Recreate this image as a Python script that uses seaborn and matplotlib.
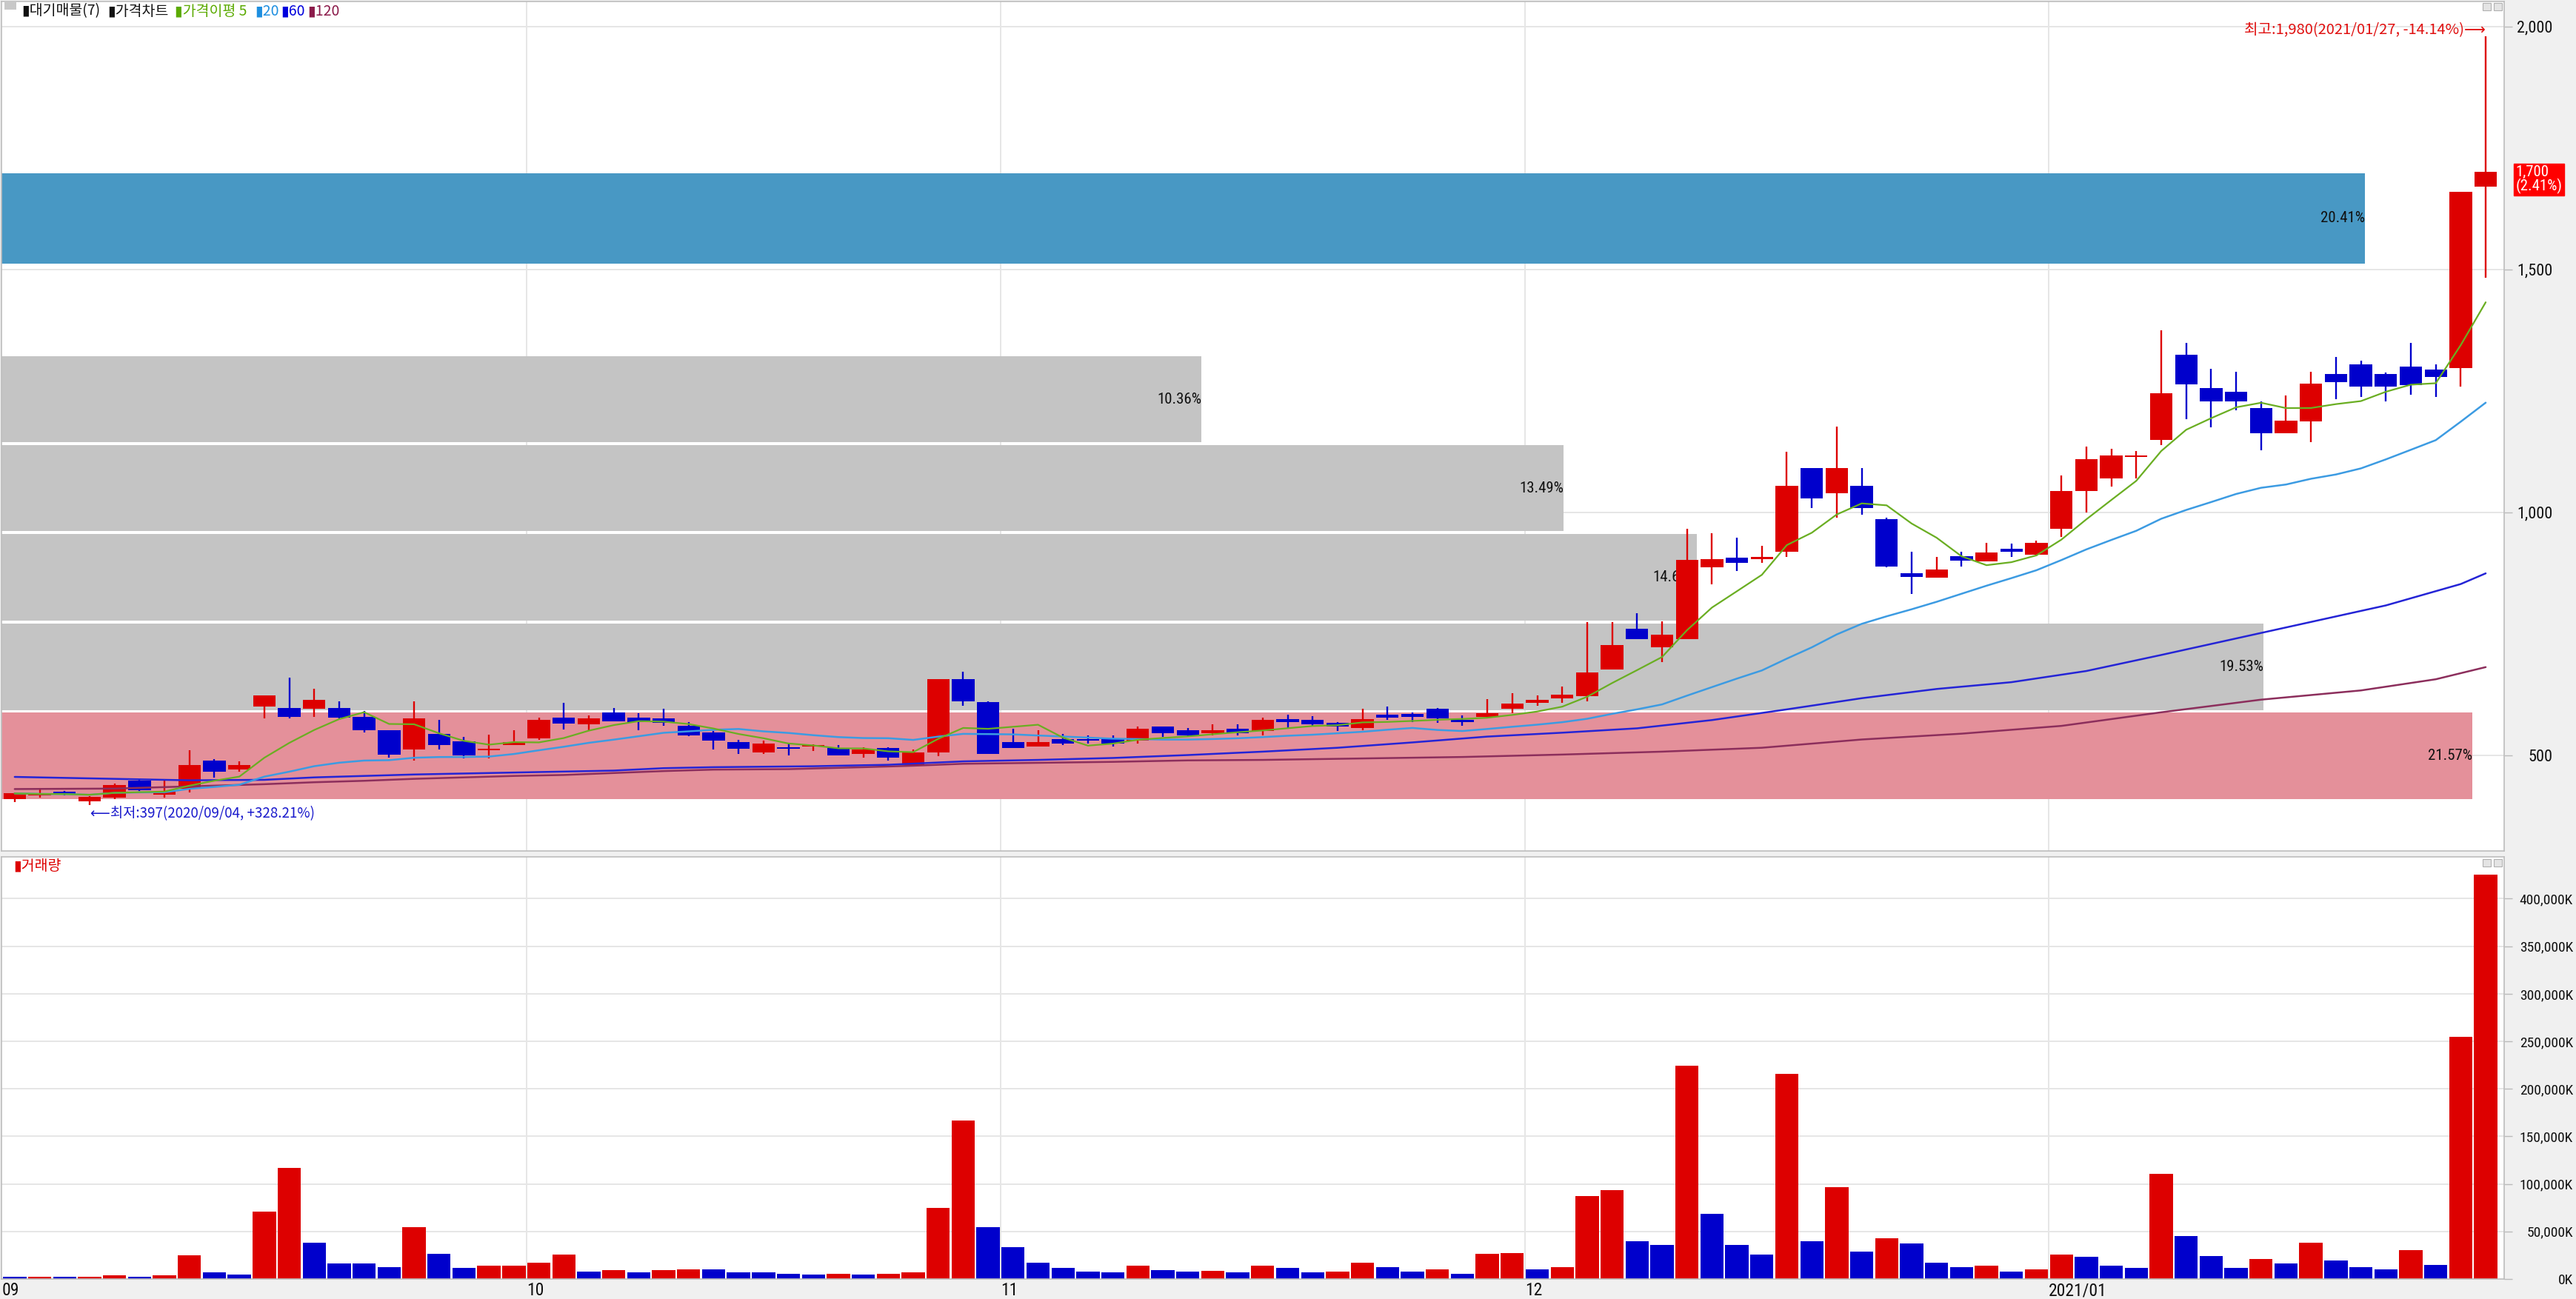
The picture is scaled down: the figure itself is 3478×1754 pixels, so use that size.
import matplotlib
matplotlib.use("Agg")
import matplotlib.pyplot as plt
import matplotlib.transforms as mtransforms
from matplotlib import font_manager
from matplotlib.font_manager import FontProperties
import numpy as np
import pandas as pd
import seaborn as sns

# daily candles, 2020/09/01 .. 2021/01/27
opens = [409, 418, 424, 404, 412, 448, 419, 431, 488, 471,
         600, 597, 595, 597, 578, 551, 511, 543, 528, 510,
         521, 535, 577, 563, 588, 577, 575, 560, 547, 526,
         506, 515, 517, 515, 503, 515, 480, 505, 657, 609,
         526, 517, 533, 533, 534, 529, 559, 551, 545, 554,
         550, 574, 572, 567, 556, 583, 584, 595, 572, 578,
         596, 607, 616, 621, 676, 760, 722, 739, 886, 906,
         904, 918, 1091, 1039, 1054, 986, 874, 865, 910, 899,
         924, 912, 966, 1043, 1069, 1113, 1148, 1324, 1255, 1248,
         1214, 1163, 1187, 1285, 1304, 1285, 1299, 1293, 1297, 1670]
highs = [423, 432, 426, 415, 441, 449, 450, 510, 492, 487,
         622, 659, 637, 611, 591, 551, 611, 572, 537, 542,
         551, 577, 607, 581, 597, 586, 595, 568, 549, 531,
         529, 525, 522, 520, 516, 516, 512, 657, 671, 611,
         554, 551, 543, 540, 540, 559, 559, 556, 563, 563,
         577, 583, 580, 568, 595, 600, 587, 597, 582, 615,
         628, 622, 641, 773, 773, 792, 775, 965, 956, 948,
         931, 1125, 1091, 1176, 1091, 988, 919, 908, 919, 937,
         935, 941, 1075, 1135, 1130, 1126, 1374, 1349, 1295, 1289,
         1228, 1240, 1289, 1320, 1312, 1287, 1349, 1304, 1660, 1980]
lows = [403, 413, 417, 397, 410, 426, 412, 423, 453, 466,
        575, 575, 578, 576, 546, 494, 488, 511, 493, 493,
        521, 531, 553, 551, 569, 551, 560, 539, 511, 503,
        503, 499, 508, 499, 494, 489, 480, 497, 602, 503,
        515, 517, 520, 524, 517, 524, 537, 537, 540, 540,
        541, 556, 559, 549, 551, 572, 568, 566, 561, 576,
        586, 601, 607, 611, 676, 739, 692, 739, 851, 879,
        895, 908, 1009, 988, 995, 886, 831, 865, 888, 899,
        908, 910, 949, 999, 1052, 1069, 1138, 1191, 1174, 1210,
        1128, 1163, 1144, 1232, 1237, 1228, 1242, 1237, 1258, 1483]
closes = [421, 419, 419, 414, 438, 428, 425, 480, 465, 480,
          622, 578, 613, 577, 551, 501, 575, 520, 499, 512,
          527, 572, 565, 575, 569, 568, 567, 540, 529, 513,
          524, 513, 520, 499, 512, 494, 505, 657, 611, 503,
          515, 526, 524, 529, 524, 554, 545, 540, 551, 545,
          572, 568, 563, 559, 574, 577, 578, 575, 568, 586,
          606, 613, 625, 670, 727, 739, 748, 901, 903, 895,
          908, 1054, 1028, 1091, 1009, 888, 867, 882, 900, 917,
          919, 937, 1044, 1109, 1116, 1116, 1244, 1263, 1228, 1228,
          1163, 1189, 1264, 1268, 1259, 1259, 1262, 1279, 1660, 1700]
volume_k = [2200, 2400, 2300, 2400, 3700, 2300, 3700, 24800, 7200, 4600,
            71000, 117000, 38000, 16400, 16000, 12700, 54800, 26800, 11500, 14100,
            14300, 17300, 25400, 8100, 9200, 6900, 9200, 10400, 10200, 6900,
            6700, 5800, 4300, 5800, 4300, 5800, 6900, 74600, 166900, 54800,
            33700, 17300, 11500, 8100, 6900, 14100, 9200, 8100, 8300, 6900,
            14100, 11500, 6900, 8100, 17300, 12700, 8100, 10400, 5800, 26800,
            27000, 10400, 12700, 87600, 93400, 39800, 36000, 224000, 68900, 36000,
            25400, 216000, 39800, 96800, 29100, 43200, 37200, 17300, 12700, 14100,
            8100, 10400, 25400, 23100, 14100, 11500, 111000, 45500, 24500, 11500,
            20700, 16400, 38300, 19600, 12700, 10400, 30300, 15000, 254500, 425000]

ma60_idx = [0, 3, 7, 10, 12, 14, 16, 18, 20, 22, 24, 26, 28, 32, 35, 38, 41, 44, 47,
            50, 53, 56, 59, 62, 65, 68, 71, 74, 77, 80, 83, 86, 89, 92, 95, 98, 99]
ma60_val = [455, 452, 448, 449, 454, 457, 460, 462, 464, 466, 468, 473, 475, 477, 480, 487, 490, 494, 500,
            507, 515, 526, 538, 546, 555, 572, 594, 617, 636, 650, 673, 706, 740, 774, 808, 852, 874]
ma120_idx = [0, 4, 6, 8, 10, 12, 14, 16, 18, 20, 22, 24, 26, 28, 31, 34, 36, 38, 41, 44, 47,
             50, 54, 58, 62, 66, 70, 74, 78, 82, 86, 90, 94, 97, 99]
ma120_val = [430, 431, 434, 437, 440, 444, 447, 451, 454, 457, 459, 463, 467, 470, 471, 475, 478, 482, 484, 486, 489,
             490, 493, 496, 501, 507, 515, 532, 544, 560, 588, 614, 633, 656, 681]

# volume-at-price bands (대기매물 7)
band_edges = [407, 590, 774, 958, 1141, 1324, 1509, 1701]
band_pct = [21.57, 19.53, 14.64, 13.49, 10.36, 0.00, 20.41]

month_start = [0, 21, 40, 61, 82]
month_labels = ["09", "10", "11", "12", "2021/01"]
low_date = "2020/09/04"
high_date = "2021/01/27"
price_ticks = [500, 1000, 1500, 2000]
volume_ticks = [0, 50000, 100000, 150000, 200000, 250000, 300000, 350000, 400000]

W, H = 3478, 1754
BG = "#F0F0F0"
UP = "#DD0000"
DOWN = "#0000CC"
GRID = "#E6E6E6"
SPINE = "#BDBDBD"
BAND_GRAY = "#C4C4C4"
BAND_MAX = "#E4909A"
BAND_NOW = "#4898C4"
C_MA5 = "#6AAE22"
C_MA20 = "#3C9BE2"
C_MA60 = "#2424D6"
C_MA120 = "#8C2E5C"


def pick_font(names):
    for name in names:
        try:
            font_manager.findfont(FontProperties(family=name), fallback_to_default=False)
            return name
        except ValueError:
            continue
    return "DejaVu Sans"


NARROW = pick_font(["Liberation Sans Narrow", "Roboto Condensed", "DejaVu Sans"])

sns.set_style("white")
plt.rcParams["font.family"] = ["Noto Sans CJK KR", "DejaVu Sans"]
plt.rcParams["axes.unicode_minus"] = False

o = np.array(opens, float)
h = np.array(highs, float)
l = np.array(lows, float)
c = np.array(closes, float)
v = np.array(volume_k, float)
n = len(c)
x = np.arange(n)

fig = plt.figure(figsize=(W / 100, H / 100), dpi=100, facecolor=BG)
ax = fig.add_axes([2 / W, 1 - 1149 / H, 3379 / W, 1147 / H])
axv = fig.add_axes([2 / W, 1 - 1727 / H, 3379 / W, 570 / H])

xlim = (-0.53, 99.74)

# ---- price pane ----
ax.set_facecolor("white")
ax.set_axisbelow(True)
for t in price_ticks:
    ax.axhline(t, color=GRID, lw=1.4, zorder=0)
for m in month_start[1:]:
    ax.axvline(m - 0.5, color=GRID, lw=1.4, zorder=0)

edges = np.array(band_edges, float)
pct = np.array(band_pct)
widths = np.minimum(pct * 4.64, 99.0)
for k in range(len(pct)):
    if pct[k] <= 0:
        continue
    if edges[k] <= c[-1] < edges[k + 1]:
        col = BAND_NOW
    elif pct[k] == pct.max():
        col = BAND_MAX
    else:
        col = BAND_GRAY
    mid = (edges[k] + edges[k + 1]) / 2
    ax.barh(mid, widths[k], height=edges[k + 1] - edges[k] - 6, left=xlim[0],
            color=col, linewidth=0, zorder=1)
    ax.text(xlim[0] + widths[k], mid, f"{pct[k]:.2f}%", ha="right", va="center",
            fontsize=15, family=[NARROW, "DejaVu Sans"], color="#111111", zorder=2)

up = c >= o
ccol = np.where(up, UP, DOWN)
ax.vlines(x, l, h, colors=ccol, linewidth=1.7, zorder=3)
body = np.maximum(np.abs(c - o), 3.0)
bottom = np.minimum(o, c) - (body - np.abs(c - o)) / 2
ax.bar(x, body, bottom=bottom, width=0.9, color=ccol, linewidth=0, zorder=4)

ma5 = pd.Series(c).rolling(5, min_periods=1).mean()
ma20 = pd.Series(c).rolling(20, min_periods=1).mean()
sns.lineplot(x=ma120_idx, y=ma120_val, ax=ax, color=C_MA120, lw=1.8, zorder=5, estimator=None)
sns.lineplot(x=ma60_idx, y=ma60_val, ax=ax, color=C_MA60, lw=1.8, zorder=5, estimator=None)
sns.lineplot(x=x, y=ma20, ax=ax, color=C_MA20, lw=1.8, zorder=5, estimator=None)
sns.lineplot(x=x, y=ma5, ax=ax, color=C_MA5, lw=1.6, zorder=6, estimator=None)

ax.set_xlim(*xlim)
ax.set_ylim(302.6, 2051.2)
ax.set_xticks([])
ax.set_xlabel("")
ax.set_ylabel("")
ax.yaxis.tick_right()
ax.set_yticks(price_ticks, labels=[f"{t:,}" for t in price_ticks])
ax.tick_params(axis="y", length=8, width=1, color="#BBBBBB", pad=39, labelsize=16,
               labelcolor="#111111", labelfontfamily=NARROW)
for lab in ax.get_yticklabels():
    lab.set_horizontalalignment("right")

# high / low notes
i_lo = int(np.argmin(l))
i_hi = int(np.argmax(h))
lo_txt = f"⟵최저:{l[i_lo]:,.0f}({low_date}, {(c[-1] / l[i_lo] - 1) * 100:+.2f}%)"
hi_txt = f"최고:{h[i_hi]:,.0f}({high_date}, {(c[-1] / h[i_hi] - 1) * 100:+.2f}%)⟶"
ax.annotate(lo_txt, xy=(i_lo, l[i_lo]), xytext=(1, -1), textcoords="offset points",
            ha="left", va="top", fontsize=13.5, color="#1A1ACC", zorder=7)
ax.annotate(hi_txt, xy=(i_hi, h[i_hi]), xytext=(0, -2), textcoords="offset points",
            ha="right", va="bottom", fontsize=14.5, color="#E01010", zorder=7)

chg = (c[-1] / c[-2] - 1) * 100
blend = mtransforms.blended_transform_factory(ax.transAxes, ax.transData)
ax.annotate(f"{c[-1]:,.0f}\n({chg:.2f}%)", xy=(1, c[-1]), xycoords=blend,
            xytext=(11, -7), textcoords="offset points", ha="left", va="center",
            fontsize=15, family=[NARROW, "DejaVu Sans"], color="white", linespacing=0.95,
            bbox=dict(boxstyle="square,pad=0.12", fc="#FF0000", ec="#FF0000"),
            annotation_clip=False)

# ---- volume pane ----
axv.set_facecolor("white")
for t in volume_ticks[1:]:
    axv.axhline(t, color=GRID, lw=1.4, zorder=0)
for m in month_start[1:]:
    axv.axvline(m - 0.5, color=GRID, lw=1.4, zorder=0)

vdir = np.where(np.r_[False, np.diff(v) >= 0], "up", "down")
vol_df = pd.DataFrame({"day": x, "vol": v, "dir": vdir})
sns.barplot(data=vol_df, x="day", y="vol", hue="dir", palette={"up": UP, "down": DOWN},
            dodge=False, width=0.93, saturation=1, legend=False, linewidth=0, ax=axv, zorder=2)

axv.set_xlim(*xlim)
axv.set_ylim(0, 444000)
axv.set_xlabel("")
axv.set_ylabel("")
axv.set_xticks([m - 0.5 for m in month_start], labels=month_labels)
axv.tick_params(axis="x", length=0, pad=3, labelsize=17, labelcolor="#111111",
                labelfontfamily=NARROW)
for lab in axv.get_xticklabels():
    lab.set_horizontalalignment("left")
axv.yaxis.tick_right()
axv.set_yticks(volume_ticks, labels=[f"{t:,}K" for t in volume_ticks])
axv.tick_params(axis="y", length=8, width=1, color="#BBBBBB", pad=59, labelsize=14,
                labelcolor="#111111", labelfontfamily=NARROW)
for lab in axv.get_yticklabels():
    lab.set_horizontalalignment("right")

for a in (ax, axv):
    for s in a.spines.values():
        s.set_color(SPINE)
        s.set_linewidth(1.2)

# pane chrome: small window buttons and the legend lines
fig.patches.append(plt.Rectangle((6 / W, 1 - 13 / H), 16 / W, 10 / H, transform=fig.transFigure,
                                 fc="#C8C8C8", ec="none"))
for top_px in (4, 1160):
    for left_px in (3352, 3367):
        fig.patches.append(plt.Rectangle((left_px / W, 1 - (top_px + 10) / H), 11 / W, 10 / H,
                                         transform=fig.transFigure, fc="#E4E4E4",
                                         ec="#B0B0B0", lw=0.8))

legend_items = [("▮대기매물(7)", "#111111", 29), ("▮가격차트", "#111111", 145),
                ("▮가격이평 5", "#5BAA00", 236), ("▮20", "#1E8FE0", 344),
                ("▮60", "#0000DD", 379), ("▮120", "#8B1A4A", 415)]
for txt, col, px in legend_items:
    fig.text(px / W, 1 - 15 / H, txt, color=col, fontsize=14, ha="left", va="center")
fig.text(18 / W, 1 - 1169 / H, "▮거래량", color="#DD0000", fontsize=14, ha="left", va="center")

fig.savefig("out.png", dpi=100, facecolor=BG)
